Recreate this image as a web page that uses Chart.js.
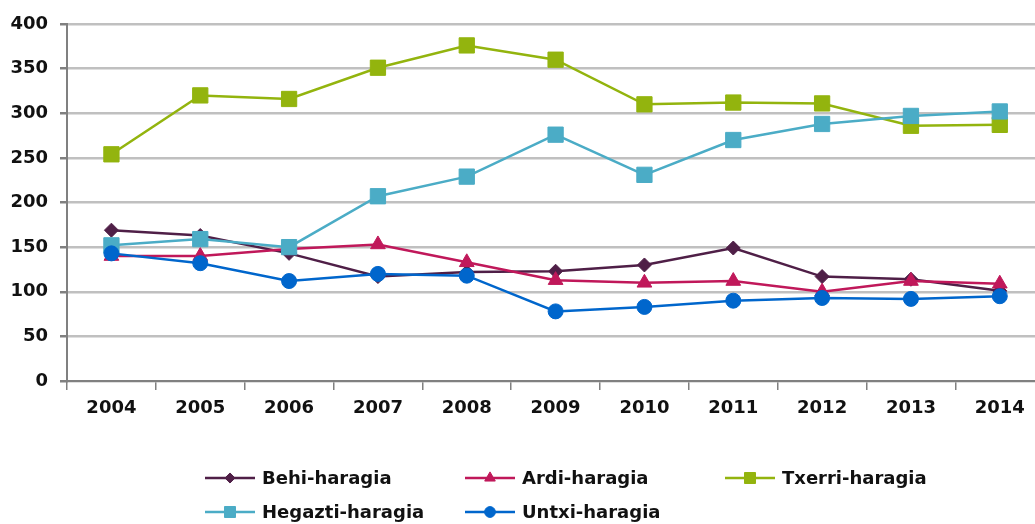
<!DOCTYPE html>
<html lang="en">
<head>
<meta charset="utf-8">
<title>Haragia</title>
<script src="https://cdn.jsdelivr.net/npm/chart.js@4/dist/chart.umd.min.js"></script>
<style>
  html, body { margin: 0; padding: 0; background: #fff; overflow: hidden; }
  #wrap { width: 1056px; height: 524px; position: relative; }
</style>
<script>
// years on x axis
var years = ['2004','2005','2006','2007','2008','2009','2010','2011','2012','2013','2014'];

var behi    = [169, 163, 143, 117, 122, 123, 130, 149, 117, 114, 101];
var ardi    = [140, 140, 148, 153, 133, 113, 110, 112, 100, 112, 109];
var txerri  = [254, 320, 316, 351, 376, 360, 310, 312, 311, 286, 287];
var hegazti = [152, 159, 150, 207, 229, 276, 231, 270, 288, 297, 302];
var untxi   = [143, 132, 112, 120, 118,  78,  83,  90,  93,  92,  95];

var yTicks = [0, 50, 100, 150, 200, 250, 300, 350, 400];

var FONT = "'DejaVu Sans', Verdana, sans-serif";

// legend laid out as a grid (3 columns), drawn on the canvas
var gridLegend = {
    id: 'gridLegend',
    afterDraw: function(chart){
        var ctx = chart.ctx;
        var ds = chart.data.datasets;
        ctx.save();
        for (var i = 0; i < ds.length; i++) {
            var col = i % 3, row = Math.floor(i / 3);
            var x0 = 205 + col * 260;
            var y = 478 + row * 34;
            ctx.strokeStyle = ds[i].borderColor;
            ctx.lineWidth = 2.5;
            ctx.beginPath();
            ctx.moveTo(x0, y);
            ctx.lineTo(x0 + 50, y);
            ctx.stroke();
            ctx.fillStyle = ds[i].pointBackgroundColor;
            ctx.strokeStyle = ds[i].pointBackgroundColor;
            ctx.lineWidth = 1;
            Chart.helpers.drawPoint(ctx, {
                pointStyle: ds[i].pointStyle,
                radius: ds[i].pointRadius * 0.72,
                borderWidth: 1,
                rotation: 0
            }, x0 + 25, y);
            ctx.fillStyle = '#111';
            ctx.font = 'bold 18px ' + FONT;
            ctx.textAlign = 'left';
            ctx.textBaseline = 'middle';
            ctx.fillText(ds[i].label, x0 + 57, y + 1);
        }
        ctx.restore();
    }
};

function mkSet(label, data, color, style, radius, order){
    return {
        label: label,
        data: data,
        borderColor: color,
        backgroundColor: color,
        pointBackgroundColor: color,
        pointBorderColor: color,
        pointBorderWidth: 1,
        pointStyle: style,
        pointRadius: radius,
        pointHoverRadius: radius,
        borderWidth: 2.5,
        tension: 0,
        fill: false,
        order: order
    };
}

function go(){
    var ctx = document.getElementById('myChart');
    new Chart(ctx, {
        type: 'line',
        data: {
            labels: years,
            datasets: [
                mkSet('Behi-haragia', behi, '#4f1f47', 'rectRot', 7, 5),
                mkSet('Ardi-haragia', ardi, '#c0185a', 'triangle', 8.5, 4),
                mkSet('Txerri-haragia', txerri, '#93b40e', 'rect', 10.8, 3),
                mkSet('Hegazti-haragia', hegazti, '#4bacc6', 'rect', 10.8, 2),
                mkSet('Untxi-haragia', untxi, '#0066cc', 'circle', 7.5, 1)
            ]
        },
        options: {
            responsive: false,
            animation: false,
            layout: { padding: { top: 24, bottom: 103, left: 0, right: 0 } },
            plugins: {
                legend: { display: false },
                tooltip: { enabled: false }
            },
            scales: {
                x: {
                    offset: true,
                    afterFit: function(s){ s.height = 40; },
                    grid: {
                        offset: true,
                        drawOnChartArea: false,
                        drawTicks: true,
                        tickLength: 9,
                        color: '#808080',
                        lineWidth: 1.5
                    },
                    border: { color: '#808080', width: 2 },
                    ticks: {
                        color: '#111',
                        padding: 8,
                        maxRotation: 0,
                        font: { family: FONT, size: 18, weight: 'bold' }
                    }
                },
                y: {
                    min: 0,
                    max: 400,
                    afterFit: function(s){ s.width = 67; },
                    afterBuildTicks: function(s){
                        s.ticks = yTicks.map(function(v){ return { value: v }; });
                    },
                    grid: {
                        color: '#c0c0c0',
                        lineWidth: 2.5,
                        drawTicks: true,
                        tickLength: 7,
                        tickColor: '#808080'
                    },
                    border: { color: '#808080', width: 2 },
                    ticks: {
                        color: '#111',
                        padding: 12,
                        font: { family: FONT, size: 18, weight: 'bold' }
                    }
                }
            }
        },
        plugins: [gridLegend]
    });
}
</script>
</head>
<body onload="go();">
<div id="wrap">
<canvas id="myChart" width="1056" height="524"></canvas>
</div>
</body>
</html>
